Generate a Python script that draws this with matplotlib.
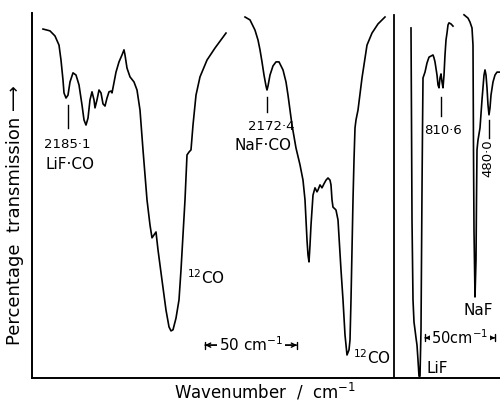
import matplotlib.pyplot as plt

# x = position along the chart recording, y = percentage transmission
lif_co_x = [43, 50, 55, 59, 61, 63, 64, 66, 68, 70, 73, 76, 79, 82, 84, 86, 88, 90, 92, 94,
            95, 97, 99, 101, 103, 105, 107, 109, 111, 112, 113, 116, 119, 122, 124, 125, 127, 130, 134, 137,
            140, 143, 147, 150, 152, 154, 156, 158, 162, 166, 169, 171, 173, 176, 179, 181, 183, 185, 187, 189,
            191, 193, 196, 200, 207, 215, 226]
lif_co_t = [95.6, 95.1, 93.7, 91.2, 87.1, 81.6, 78.1, 76.7, 77.5, 81.1, 83.6, 83.0, 80.3, 74.8, 70.7, 69.3, 71.2, 76.2, 78.4, 76.2,
            74.0, 76.2, 78.9, 78.1, 75.1, 74.5, 76.7, 78.4, 78.6, 78.1, 79.5, 83.8, 86.6, 88.5, 89.9, 88.5, 84.9, 82.5, 81.1, 78.9,
            73.4, 62.5, 48.8, 41.9, 38.4, 39.2, 40.0, 35.1, 26.8, 18.6, 14.0, 12.9, 13.2, 16.4, 21.4, 29.6, 39.2, 48.8, 61.1, 61.9,
            62.5, 69.3, 77.5, 82.5, 87.1, 90.4, 94.5]

naf_co_x = [245, 250, 255, 258, 260, 262, 264, 266, 267, 268, 270, 273, 276, 279, 283, 286, 288, 292, 296, 300,
            303, 305, 306, 307, 308, 309, 310, 311, 313, 315, 317, 318, 320, 322, 324, 326, 328, 330, 331, 332,
            333, 335, 336, 338, 341, 343, 345, 347, 349, 350, 351, 352, 353, 354, 355, 356, 358, 362, 367, 372,
            378, 385]
naf_co_t = [98.9, 98.1, 95.3, 92.6, 89.9, 86.6, 83.0, 80.0, 78.9, 80.0, 83.0, 85.5, 86.6, 86.6, 84.4, 81.1, 77.5, 69.3, 63.0, 58.4,
            54.2, 48.8, 43.3, 37.8, 33.7, 31.8, 36.4, 41.9, 50.1, 52.1, 51.0, 51.5, 52.9, 52.1, 53.2, 54.2, 54.8, 54.2, 52.9, 48.8,
            46.8, 46.3, 46.0, 43.3, 29.6, 21.4, 11.8, 6.3, 7.7, 10.4, 21.4, 35.1, 48.8, 59.7, 68.5, 70.7, 73.4, 82.2, 91.2, 94.5,
            97.0, 98.9]

lif_x = [411, 411.5, 412, 413, 414, 415, 416, 417, 418, 419, 420, 421, 421.5, 422, 422.5, 423, 425, 427, 429, 431,
         433, 434, 435, 437, 438, 439, 440, 441, 442, 443, 444, 445, 446, 447, 448, 449, 451, 453]
lif_t = [95.9, 70.7, 43.3, 21.4, 15.3, 13.2, 11.0, 9.0, 4.9, 0.5, 0.5, 13.2, 32.3, 51.5, 67.9, 82.2, 83.8, 86.3, 87.9, 88.2,
         88.5, 87.7, 86.6, 83.0, 80.3, 79.5, 82.2, 83.3, 81.1, 79.5, 83.0, 88.5, 92.6, 94.5, 96.7, 97.3, 97.0, 96.4]

naf_x = [464, 468, 470, 472, 473, 473.5, 474, 475, 476, 476.5, 477, 478, 480, 482, 484, 485, 486, 487, 488, 489,
         490, 491, 493, 495, 497, 500]
naf_t = [99.5, 98.6, 97.5, 95.9, 91.2, 62.5, 40.5, 22.2, 32.3, 48.8, 62.5, 65.2, 68.5, 76.2, 83.0, 84.4, 83.0, 79.5, 74.8, 72.1,
         74.0, 77.5, 81.1, 83.0, 83.8, 83.8]

# marked bands: label, chart position, tick top/bottom
band_labels = ['2185·1', '2172·4', '810·6']
band_x = [68, 267, 441]
band_tick = [(74.8, 68.5), (77.0, 72.9), (77.0, 71.8)]
band_text = [(67, 64.1), (271, 68.8), (443, 67.9)]

panel_break = 394

fig = plt.figure(figsize=(5, 4.07), dpi=100)
ax = fig.add_axes([0.064, 0.0713, 0.936, 0.8968])
ax.set_xlim(32, 500)
ax.set_ylim(0, 100)
ax.set_xticks([])
ax.set_yticks([])
for s in ['top', 'right']:
    ax.spines[s].set_visible(False)
for s in ['left', 'bottom']:
    ax.spines[s].set_linewidth(1.4)

kw = dict(color='black', lw=1.2, clip_on=False, solid_joinstyle='round')
ax.plot(lif_co_x, lif_co_t, **kw)
ax.plot(naf_co_x, naf_co_t, **kw)
ax.plot(lif_x, lif_t, **kw)
ax.plot(naf_x, naf_t, **kw)

ax.plot([panel_break, panel_break], [0, 99.5], color='black', lw=1.3)

for lab, x, (t0, t1), (tx, ty) in zip(band_labels, band_x, band_tick, band_text):
    ax.plot([x, x], [t0, t1], color='black', lw=1.0)
    ax.text(tx, ty, lab, ha='center', va='center', fontsize=9.5)

# 480.0 band written sideways
ax.plot([489, 489], [70.7, 65.8], color='black', lw=1.0)
ax.text(488, 60.3, '480·0', rotation=90, ha='center', va='center', fontsize=9.5)

ax.text(70, 58.4, 'LiF·CO', ha='center', va='center', fontsize=11)
ax.text(263, 63.8, 'NaF·CO', ha='center', va='center', fontsize=11)
ax.text(187, 27.5, '$^{12}$CO', ha='left', va='center', fontsize=11)
ax.text(353, 5.5, '$^{12}$CO', ha='left', va='center', fontsize=11)
ax.text(478, 18.6, 'NaF', ha='center', va='center', fontsize=11)
ax.text(437, 2.7, 'LiF', ha='center', va='center', fontsize=11)


def scale_bar(x0, x1, y, label, fs):
    ax.annotate('', xy=(x0, y), xytext=(x1, y),
                arrowprops=dict(arrowstyle='|-|,widthA=0.25,widthB=0.25', lw=1.0, color='black',
                                shrinkA=0, shrinkB=0))
    ax.annotate('', xy=(x0, y), xytext=(x1, y),
                arrowprops=dict(arrowstyle='<->,head_length=0.3,head_width=0.15', lw=1.0, color='black',
                                shrinkA=0, shrinkB=0))
    ax.text((x0 + x1) / 2, y, label, ha='center', va='center', fontsize=fs,
            bbox=dict(facecolor='white', edgecolor='none', pad=1))


scale_bar(205, 297, 9.0, '50 cm$^{-1}$', 11)
scale_bar(425, 495, 11.0, '50cm$^{-1}$', 10.5)

fig.text(0.03, 0.472, 'Percentage  transmission ⟶', rotation=90, ha='center', va='center', fontsize=13)
fig.text(0.53, 0.037, 'Wavenumber  /  cm$^{-1}$', ha='center', va='center', fontsize=12)

fig.savefig('out.png', dpi=100)
